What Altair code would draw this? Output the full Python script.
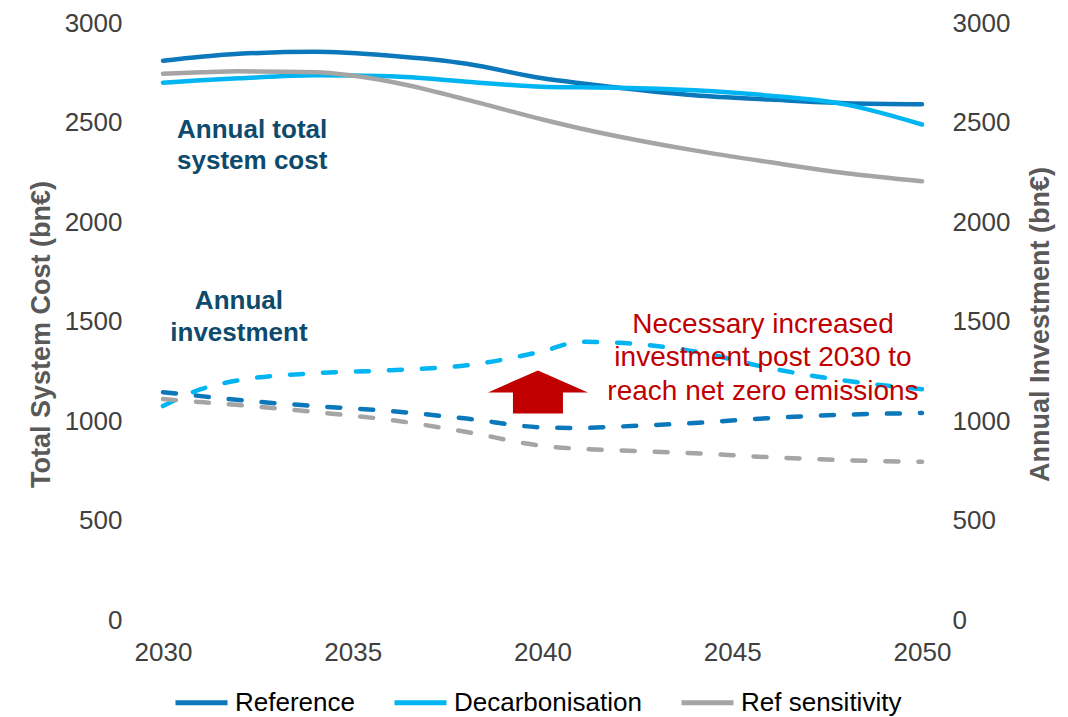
import altair as alt
import pandas as pd

# ---- data ----
YEARS = [2030, 2031, 2032, 2034, 2036, 2038, 2040, 2041, 2042, 2044, 2046, 2048, 2050]
SERIES = ["Reference", "Decarbonisation", "Ref sensitivity"]
COLORS = ["#0A78BA", "#00B5F1", "#A5A5A5"]

# Annual total system cost (bn€) - left axis, solid lines
REF_COST = [2810, 2830, 2845, 2855, 2835, 2795, 2722, 2697, 2675, 2637, 2615, 2597, 2592]
DEC_COST = [2700, 2712, 2722, 2738, 2732, 2705, 2680, 2677, 2675, 2662, 2635, 2590, 2490]
SENS_COST = [2745, 2752, 2757, 2752, 2705, 2615, 2515, 2470, 2430, 2360, 2300, 2245, 2205]

# Annual investment (bn€) - right axis, dashed lines
REF_INV = [1145, 1125, 1105, 1075, 1050, 1012, 968, 965, 972, 990, 1015, 1032, 1040]
DEC_INV = [1075, 1160, 1205, 1240, 1255, 1280, 1350, 1398, 1393, 1350, 1265, 1202, 1160]
SENS_INV = [1110, 1095, 1080, 1045, 1005, 945, 875, 860, 852, 838, 818, 803, 795]

X_TICKS = [2030, 2035, 2040, 2045, 2050]
Y_TICKS = [0, 500, 1000, 1500, 2000, 2500, 3000]

cost_rows = []
for name, vals in zip(SERIES, [REF_COST, DEC_COST, SENS_COST]):
    for yr, v in zip(YEARS, vals):
        cost_rows.append({"series": name, "year": yr, "value": v})
inv_rows = []
for name, vals in zip(SERIES, [REF_INV, DEC_INV, SENS_INV]):
    for yr, v in zip(YEARS, vals):
        inv_rows.append({"series": name, "year": yr, "value": v})
cost_df = pd.DataFrame(cost_rows)
inv_df = pd.DataFrame(inv_rows)

FONT = "Liberation Sans"
x_scale = alt.Scale(domain=[2030, 2050], nice=False, zero=False)
y_dom = alt.Scale(domain=[0, 3000], nice=False)
color = alt.Color(
    "series:N",
    scale=alt.Scale(domain=SERIES, range=COLORS),
    sort=SERIES,
    legend=alt.Legend(
        title=None, orient="none", legendX=10, legendY=651, direction="horizontal",
        symbolType="stroke", symbolSize=2704, symbolStrokeWidth=5,
        labelFontSize=26, labelFont=FONT, labelColor="#000000", labelOffset=5,
        columnPadding=29, padding=0, labelLimit=400,
    ),
)

x_enc = alt.X(
    "year:Q", scale=x_scale, title=None,
    axis=alt.Axis(values=X_TICKS, format="d", labelFontSize=26, labelFont=FONT,
                  labelColor="#404040", labelPadding=19, domain=False, ticks=False,
                  grid=False, labelFlush=False),
)

cost = alt.Chart(cost_df).mark_line(strokeWidth=4.5, interpolate="monotone", strokeCap="round").encode(
    x=x_enc,
    y=alt.Y("value:Q", scale=y_dom, title="Total System Cost (bn€)",
            axis=alt.Axis(values=Y_TICKS, format="d", orient="left", labelFontSize=26, labelFont=FONT,
                          labelColor="#404040", labelPadding=41, domain=False, ticks=False,
                          grid=False, titleFontSize=27, titleFont=FONT, titleFontWeight="bold",
                          titleColor="#595959", titleAngle=270, titleX=-122, titleY=311,
                          titleAlign="center", titleBaseline="middle")),
    color=color,
)

inv = alt.Chart(inv_df).mark_line(strokeWidth=4.5, interpolate="monotone", strokeCap="round",
                                   strokeDash=[13, 20]).encode(
    x=alt.X("year:Q", scale=x_scale),
    y=alt.Y("value:Q", scale=y_dom, title="Annual Investment (bn€)",
            axis=alt.Axis(values=Y_TICKS, format="d", orient="right", labelFontSize=26, labelFont=FONT,
                          labelColor="#404040", labelPadding=30, domain=False, ticks=False,
                          grid=False, titleFontSize=27, titleFont=FONT, titleFontWeight="bold",
                          titleColor="#595959", titleAngle=270, titleX=118, titleY=301,
                          titleAlign="center", titleBaseline="middle")),
    color=color,
)

# ---- annotations (placed in data units; first text line at the point) ----
ann_df = pd.DataFrame([
    {"year": 2030.37, "value": 2462, "key": "cost"},
    {"year": 2032.0, "value": 1603, "key": "inv"},
    {"year": 2045.81, "value": 1483, "key": "red"},
    {"year": 2039.88, "value": 1146, "key": "arrow"},
])

def ann_layer(key):
    return alt.Chart(ann_df).transform_filter(alt.datum.key == key)

t_cost = ann_layer("cost").mark_text(
    align="left", baseline="middle", font=FONT, fontSize=26, fontWeight="bold",
    color="#0E4A6B", lineHeight=31,
).encode(
    x=alt.X("year:Q", scale=x_scale),
    y=alt.Y("value:Q", scale=y_dom, axis=None),
    text=alt.value(["Annual total", "system cost"]),
)
t_inv = ann_layer("inv").mark_text(
    align="center", baseline="middle", font=FONT, fontSize=26, fontWeight="bold",
    color="#0E4A6B", lineHeight=32,
).encode(
    x=alt.X("year:Q", scale=x_scale),
    y=alt.Y("value:Q", scale=y_dom, axis=None),
    text=alt.value(["Annual", "investment"]),
)
t_red = ann_layer("red").mark_text(
    align="center", baseline="middle", font=FONT, fontSize=28,
    color="#C00000", lineHeight=33.5,
).encode(
    x=alt.X("year:Q", scale=x_scale),
    y=alt.Y("value:Q", scale=y_dom, axis=None),
    text=alt.value(["Necessary increased", "investment post 2030 to", "reach net zero emissions"]),
)
ARROW = "M0,-0.43L1,0.01L0.5,0.01L0.5,0.43L-0.5,0.43L-0.5,0.01L-1,0.01Z"
arrow = ann_layer("arrow").mark_point(
    shape=ARROW, size=10000, filled=True, color="#C00000", opacity=1, strokeWidth=0,
).encode(
    x=alt.X("year:Q", scale=x_scale),
    y=alt.Y("value:Q", scale=y_dom, axis=None),
)

chart = alt.layer(cost, inv, arrow, t_cost, t_inv, t_red).resolve_scale(
    y="independent"
).properties(
    width=759, height=597,
    background="white",
    autosize=alt.AutoSizeParams(type="none"),
    padding={"left": 155, "top": 15, "right": 138, "bottom": 96},
).configure_view(stroke=None, strokeWidth=0).configure_axis(grid=False, domain=False)

chart.save("out.html", embed_options={"renderer": "svg", "actions": False})
